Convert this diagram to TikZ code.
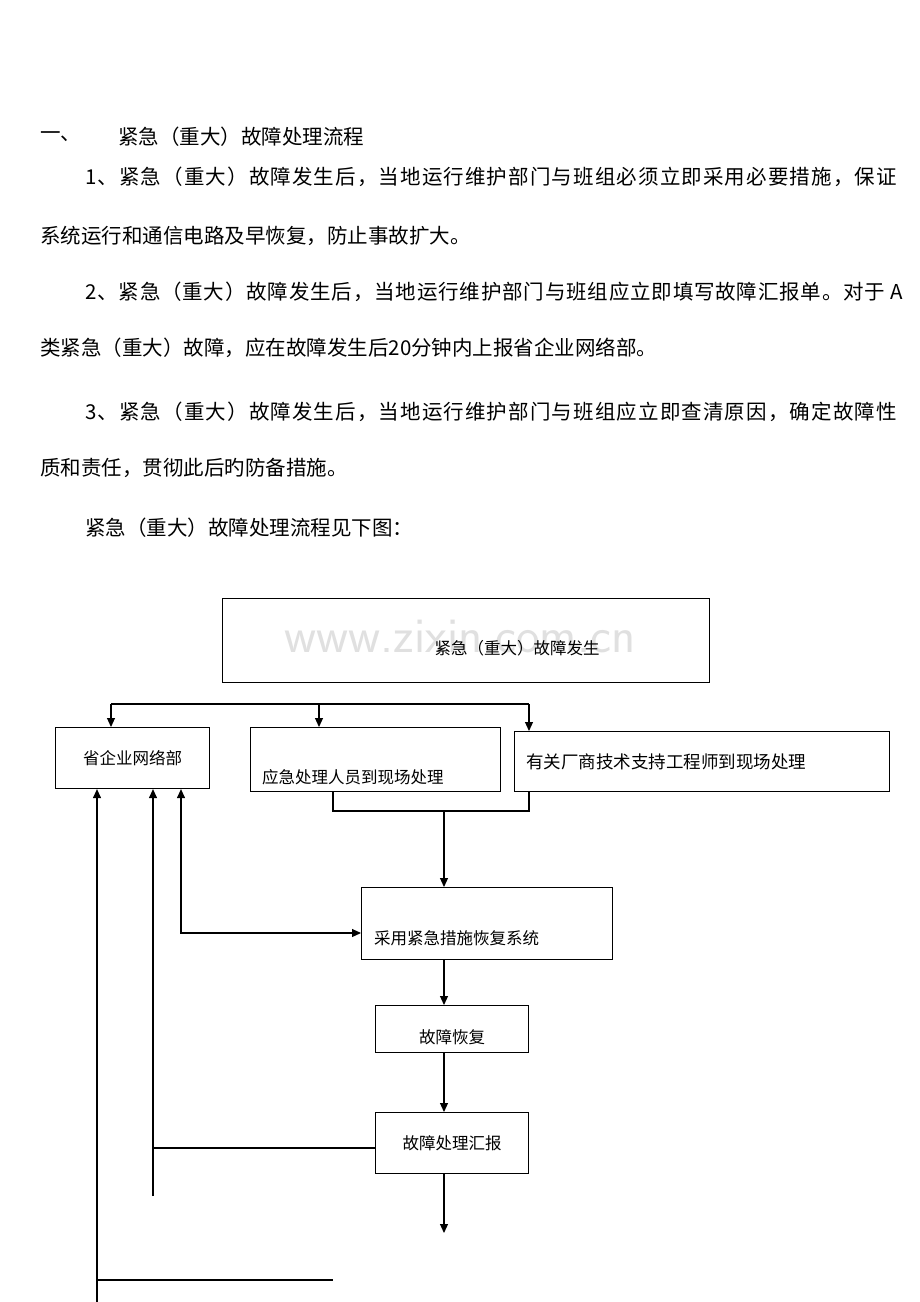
\documentclass[tikz,border=0pt]{standalone}
\usepackage{fontspec}
\setmainfont{Liberation Serif}
\newfontfamily\cjk{Noto Sans CJK SC}
\newfontfamily\cjkw{Noto Sans CJK SC}[LetterSpace=5.5]
\newfontfamily\cjkv{Noto Sans CJK SC}[LetterSpace=4]
\usetikzlibrary{arrows.meta}
\begin{document}
\begin{tikzpicture}[x=1pt,y=-1pt,
  box/.style={draw,line width=1.1pt,inner sep=0pt,anchor=north west},
  ft/.style={font=\cjk\fontsize{16.5}{19}\selectfont,inner sep=0pt},
  bt/.style={font=\cjk\fontsize{20.5}{24}\selectfont,inner sep=0pt,anchor=west},
  btw/.style={font=\cjkw\fontsize{20.5}{24}\selectfont,inner sep=0pt,anchor=west},
  btv/.style={font=\cjkv\fontsize{20.5}{24}\selectfont,inner sep=0pt,anchor=west},
  ln/.style={line width=1.1pt},
  ar/.style={line width=1.1pt,-{Triangle[length=9pt,width=8pt]}}]
\useasboundingbox (0,0) rectangle (920,1302);
\fill[white] (0,0) rectangle (920,1302);
% text
\node[bt] (h0) at (40,137) {一、};
\node[bt] (h1) at (118,137) {紧急（重大）故障处理流程};
\node[btw] (p1) at (85,177) {1、紧急（重大）故障发生后，当地运行维护部门与班组必须立即采用必要措施，保证};
\node[bt] (p2) at (40,236) {系统运行和通信电路及早恢复，防止事故扩大。};
\node[btv] (p3) at (85,292) {2、紧急（重大）故障发生后，当地运行维护部门与班组应立即填写故障汇报单。对于 A};
\node[bt] (p4) at (40,348) {类紧急（重大）故障，应在故障发生后20分钟内上报省企业网络部。};
\node[btw] (p5) at (85,412) {3、紧急（重大）故障发生后，当地运行维护部门与班组应立即查清原因，确定故障性};
\node[bt] (p6) at (40,468) {质和责任，贯彻此后旳防备措施。};
\node[bt] (p7) at (85,528) {紧急（重大）故障处理流程见下图：};
% boxes
\node[box,minimum width=487pt,minimum height=84pt] (top) at (222,598) {};
\node[font=\sffamily\fontsize{50}{50}\selectfont,text=black!12,inner sep=0pt] (wm) at (460,636) {www.zixin.com.cn};
\node[ft] (topt) at (517,648) {紧急（重大）故障发生};
\node[box,minimum width=154pt,minimum height=61pt] (b1) at (55,727) {};
\node[ft] at (b1.center) {省企业网络部};
\node[box,minimum width=250pt,minimum height=64pt] (b2) at (250,727) {};
\node[ft,anchor=west] at (262,777) {应急处理人员到现场处理};
\node[box,minimum width=375pt,minimum height=60pt] (b3) at (514,731) {};
\node[ft,anchor=west,font=\cjk\fontsize{17.5}{20}\selectfont] at (526,762) {有关厂商技术支持工程师到现场处理};
\node[box,minimum width=251pt,minimum height=72pt] (b4) at (361,887) {};
\node[ft,anchor=west] at (374,938) {采用紧急措施恢复系统};
\node[box,minimum width=153pt,minimum height=47pt] (b5) at (375,1005) {};
\node[ft] at (452,1037) {故障恢复};
\node[box,minimum width=153pt,minimum height=61pt] (b6) at (375,1112) {};
\node[ft] at (b6.center) {故障处理汇报};
% coordinates
\coordinate (s1) at (111,704);
\coordinate (s3) at (529,704);
\coordinate (j2) at (333,811);
\coordinate (j3) at (529,811);
\coordinate (jm) at (444,811);
\coordinate (c1) at (181,933);
\coordinate (c2) at (153,1148);
\coordinate (c2e) at (153,1196);
\coordinate (endp) at (444,1233);
\coordinate (l1) at (97,1302);
\coordinate (l2) at (97,1280);
\coordinate (l3) at (333,1280);
% connectors
\draw[ln] (s1) -- (s3);
\draw[ar] (s1) -- (b1.north -| s1);
\draw[ar] (319,704) -- (b2.north -| 319,0);
\draw[ar] (s3) -- (b3.north -| s3);
\draw[ln] (b2.south -| j2) -- (j2) -- (j3) -- (b3.south -| j3);
\draw[ar] (jm) -- (b4.north -| jm);
\draw[line width=1.1pt,{Triangle[length=9pt,width=8pt]}-{Triangle[length=9pt,width=8pt]}] (b1.south -| c1) -- (c1) -- (b4.west |- c1);
\draw[ar] (b4.south -| jm) -- (b5.north -| jm);
\draw[ar] (b5.south -| jm) -- (b6.north -| jm);
\draw[ln] (b6.west |- c2) -- (c2);
\draw[ar] (c2e) -- (b1.south -| c2e);
\draw[ar] (b6.south -| endp) -- (endp);
\draw[ar] (l1) -- (b1.south -| l1);
\draw[ln] (l2) -- (l3);
\end{tikzpicture}
\end{document}
